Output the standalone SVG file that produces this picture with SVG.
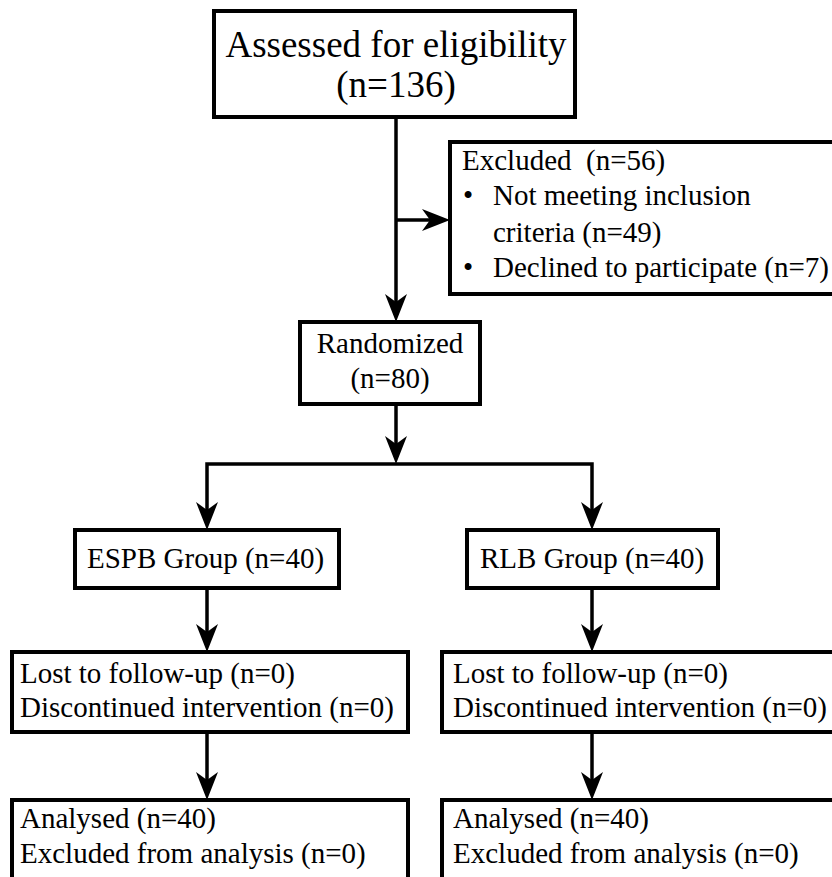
<svg xmlns="http://www.w3.org/2000/svg" width="832" height="877" viewBox="0 0 832 877">
<style>
.box{fill:#fff;stroke:#000;stroke-width:4}
.t{font-family:"Liberation Serif","Times New Roman",serif;font-size:29px;fill:#000;white-space:pre}
.big{font-size:37px}
.c{text-anchor:middle}
.ln{fill:none;stroke:#000;stroke-width:3.5;marker-end:url(#ah)}
</style>
<defs>
<marker id="ah" markerUnits="userSpaceOnUse" markerWidth="30" markerHeight="24" viewBox="0 -12 30 24" refX="8" refY="0" orient="auto" overflow="visible">
<path d="M0,-11 L28,0 L0,11 L8,0 Z" fill="#000"/>
</marker>
</defs>
<rect width="832" height="877" fill="#fff"/>
<g id="connectors">
<path class="ln" d="M396,117 V302"/>
<path class="ln" d="M396,220 H430"/>
<path class="ln" d="M396,404 V444"/>
<path class="ln" d="M396,464 H207 V510"/>
<path class="ln" d="M396,464 H592 V510"/>
<path class="ln" d="M207,588 V632"/>
<path class="ln" d="M592,588 V632"/>
<path class="ln" d="M207,732 V780"/>
<path class="ln" d="M592,732 V780"/>
</g>
<g id="assessed">
<rect class="box" x="214" y="11" width="361" height="106"/>
<text class="t big c" x="396" y="57">Assessed for eligibility</text>
<text class="t big c" x="396" y="97">(n=136)</text>
</g>
<g id="excluded">
<rect class="box" x="450" y="142" width="400" height="152"/>
<text class="t" x="462" y="170">Excluded  (n=56)</text>
<text class="t" x="463" y="205">•</text>
<text class="t" x="493" y="205">Not meeting inclusion</text>
<text class="t" x="493" y="242">criteria (n=49)</text>
<text class="t" x="463" y="277">•</text>
<text class="t" x="493" y="277">Declined to participate (n=7)</text>
</g>
<g id="randomized">
<rect class="box" x="300" y="322" width="180" height="82"/>
<text class="t c" x="390" y="353">Randomized</text>
<text class="t c" x="390" y="388">(n=80)</text>
</g>
<g id="espb">
<rect class="box" x="75" y="530" width="264" height="58"/>
<text class="t" x="87" y="568">ESPB Group (n=40)</text>
</g>
<g id="rlb">
<rect class="box" x="467" y="530" width="251" height="58"/>
<text class="t" x="480" y="568">RLB Group (n=40)</text>
</g>
<g id="lost-espb">
<rect class="box" x="12" y="652" width="396" height="80"/>
<text class="t" x="20" y="683">Lost to follow-up (n=0)</text>
<text class="t" x="20" y="717">Discontinued intervention (n=0)</text>
</g>
<g id="lost-rlb">
<rect class="box" x="442" y="652" width="400" height="80"/>
<text class="t" x="453" y="683">Lost to follow-up (n=0)</text>
<text class="t" x="453" y="717">Discontinued intervention (n=0)</text>
</g>
<g id="analysed-espb">
<rect class="box" x="12" y="800" width="396" height="90"/>
<text class="t" x="20" y="828">Analysed (n=40)</text>
<text class="t" x="20" y="863">Excluded from analysis (n=0)</text>
</g>
<g id="analysed-rlb">
<rect class="box" x="442" y="800" width="400" height="90"/>
<text class="t" x="453" y="828">Analysed (n=40)</text>
<text class="t" x="453" y="863">Excluded from analysis (n=0)</text>
</g>
</svg>
